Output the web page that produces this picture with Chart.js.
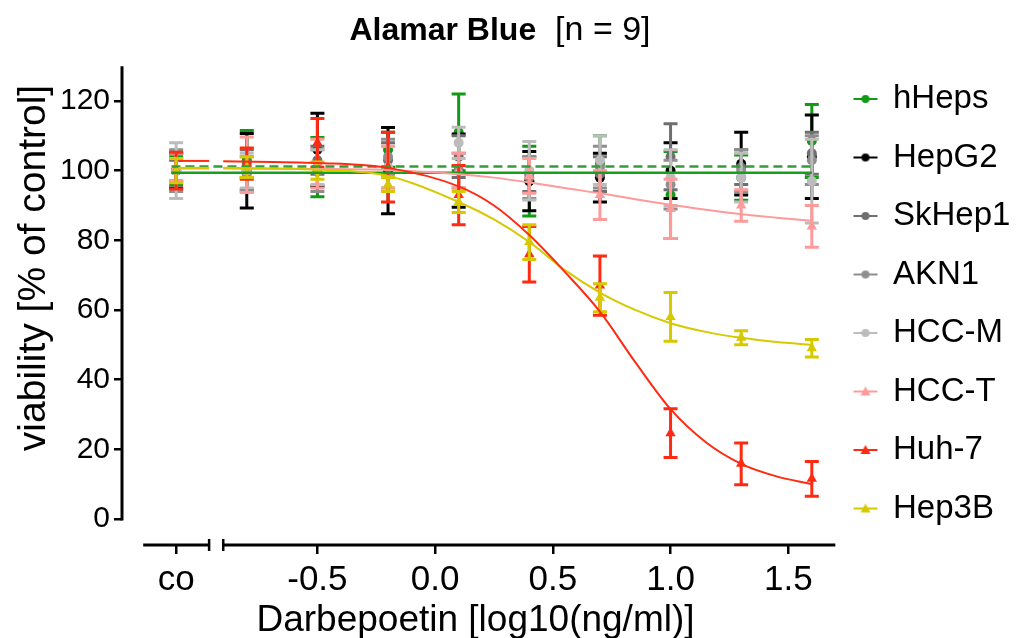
<!DOCTYPE html>
<html>
<head>
<meta charset="utf-8">
<title>Alamar Blue</title>
<script src="https://cdn.jsdelivr.net/npm/chart.js@4.4.1/dist/chart.umd.min.js"></script>
<style>
  html, body { margin: 0; padding: 0; background: #fff; }
</style>
</head>
<body>
<canvas id="chartOne" width="1026" height="638"></canvas>
<script>
const cellLines = ['hHeps', 'HepG2', 'SkHep1', 'AKN1', 'HCC-M', 'HCC-T', 'Huh-7', 'Hep3B'];
const colors = ['#129a17', '#000000', '#6f6f6f', '#8e8e8e', '#bcbcbc', '#ff9a9a', '#ff2a12', '#d7c900'];
const shapes = ['circle', 'circle', 'circle', 'circle', 'circle', 'triangle', 'triangle', 'triangle'];

// x positions: control ("co") then log10 doses
const ctrlX = -1.1;
const doses = [-0.8, -0.5, -0.2, 0.1, 0.4, 0.7, 1.0, 1.3, 1.6];
const xTicks = [ctrlX, -0.5, 0, 0.5, 1.0, 1.5];
const yTicks = [0, 20, 40, 60, 80, 100, 120];

// mean values (control first) and SD
const hHeps = [100, 103, 101, 106, 111, 97, 102, 93, 98, 108.5];
const hHepsSd = [4, 8.5, 8.5, 5, 11, 10, 8, 12.5, 6.5, 10.5];
const hepG2 = [100, 100, 106, 100, 100, 97, 98, 100, 102, 104];
const hepG2Sd = [5, 10.7, 10.5, 12.4, 10.5, 8.5, 7, 8, 9, 12];
const skHep1 = [100, 102, 103, 103, 104, 99, 99, 104, 101, 105];
const skHep1Sd = [3, 4, 4, 5, 6, 5, 5, 9.5, 5, 6];
const akn1 = [100, 99, 100, 104, 100, 98, 101, 96, 100, 103];
const akn1Sd = [6, 5, 6, 5, 5, 6, 6, 7, 6, 7];
const hccM = [100, 100, 101, 101, 108, 100, 103, 98, 98, 97];
const hccMSd = [8, 5, 5, 6, 4.5, 8.4, 7, 8, 7, 12];
const hccT = [101, 101.7, 102, 101, 100, 98.5, 93, 89, 90, 84];
const hccTSd = [4, 8, 7, 6, 5, 5, 7, 8.5, 4.5, 6];
const huh7 = [100, 102, 108, 101, 93, 76, 67, 24.6, 15.8, 11.5];
const huh7Sd = [5.3, 4.5, 7, 10, 8.5, 8, 8.5, 7, 6, 5];
const hep3B = [100, 101, 100, 96, 91, 79.5, 63.5, 58, 52, 49];
const hep3BSd = [3.5, 3, 2.5, 2, 3, 5, 4, 7, 2, 2.5];

// fitted curves
const fitX = [-0.9, -0.5, -0.2, 0.1, 0.25, 0.4, 0.55, 0.7, 0.85, 1.0, 1.15, 1.3, 1.45, 1.6];
const huh7Fit = [102.7, 102.2, 100.8, 95.5, 90, 81.5, 71, 59.5, 45, 31.5, 22, 15.8, 12.2, 10];
const hep3BFit = [100.8, 100.3, 98.5, 91, 86, 79.5, 71.5, 65, 60, 56.2, 53.7, 52, 50.8, 50];
const hccTFit = [100.6, 100.5, 100.2, 99, 98, 96.6, 95, 93.5, 91.8, 90.2, 88.8, 87.5, 86.5, 85.6];
const ctrlFitX = [-1.09, -0.96];
const huh7CtrlFit = [102.8, 102.8];
const hep3BCtrlFit = [100.8, 100.8];
const hccTCtrlFit = [100.6, 100.6];
const flatX = [-1.12, 1.6];
const hHepsFit = [99.4, 99.4];
const hHepsFit2 = [101.2, 101.2];

const means = [hHeps, hepG2, skHep1, akn1, hccM, hccT, huh7, hep3B];
const sds = [hHepsSd, hepG2Sd, skHep1Sd, akn1Sd, hccMSd, hccTSd, huh7Sd, hep3BSd];
const xAll = [ctrlX].concat(doses);
const FONT = "'Liberation Sans', Arial, sans-serif";

// little legend icon: short line with marker
function makeIcon(color, shape) {
    const c = document.createElement('canvas');
    c.width = 26; c.height = 14;
    const g = c.getContext('2d');
    g.strokeStyle = color; g.fillStyle = color; g.lineWidth = 2;
    g.beginPath(); g.moveTo(1, 7); g.lineTo(25, 7); g.stroke();
    g.beginPath();
    if (shape === 'triangle') {
        g.moveTo(13, 2); g.lineTo(18, 11); g.lineTo(8, 11); g.closePath();
    } else {
        g.arc(13, 7, 4, 0, Math.PI * 2);
    }
    g.fill();
    return c;
}

function curve(label, xs, ys, color, dash, order, width) {
    return {
        label: label,
        data: xs.map((x, k) => ({x: x, y: ys[k]})),
        borderColor: color,
        backgroundColor: color,
        borderWidth: width || 2,
        borderDash: dash || [],
        pointRadius: 0,
        showLine: true,
        fill: false,
        cubicInterpolationMode: 'monotone',
        order: order
    };
}

const pointSets = cellLines.map((name, i) => ({
    label: name,
    data: xAll.map((x, k) => ({x: x, y: means[i][k]})),
    sd: sds[i],
    backgroundColor: colors[i],
    borderColor: colors[i],
    pointStyle: shapes[i],
    pointRadius: shapes[i] === 'triangle' ? 6 : 5,
    borderWidth: 0,
    showLine: false,
    order: 20 - i,
    legendIcon: makeIcon(colors[i], shapes[i])
}));

const curveSets = [
    curve('hHeps fit', flatX, hHepsFit, '#18a01c', null, 5, 2.5),
    curve('hHeps fit (dashed)', flatX, hHepsFit2, '#2f9f33', [9, 5], 5, 2.5),
    curve('HCC-T fit', fitX, hccTFit, '#ff9a9a', null, 4),
    curve('HCC-T fit co', ctrlFitX, hccTCtrlFit, '#ff9a9a', null, 4),
    curve('Hep3B fit', fitX, hep3BFit, '#d7c900', null, 3),
    curve('Hep3B fit co', ctrlFitX, hep3BCtrlFit, '#d7c900', null, 3),
    curve('Huh-7 fit', fitX, huh7Fit, '#ff2a12', null, 2),
    curve('Huh-7 fit co', ctrlFitX, huh7CtrlFit, '#ff2a12', null, 2)
];

// error bars, drawn under each marker set
const errorBars = {
    id: 'errorBars',
    beforeDatasetDraw(chart, args) {
        const ds = chart.data.datasets[args.index];
        if (!ds.sd) return;
        const ctx = chart.ctx, xs = chart.scales.x, ys = chart.scales.y;
        ctx.save();
        ctx.strokeStyle = ds.borderColor;
        ctx.lineWidth = 3;
        ds.data.forEach((p, k) => {
            const x = xs.getPixelForValue(p.x);
            const t = ys.getPixelForValue(p.y + ds.sd[k]);
            const b = ys.getPixelForValue(p.y - ds.sd[k]);
            ctx.beginPath();
            ctx.moveTo(x, t); ctx.lineTo(x, b);
            ctx.moveTo(x - 7, t); ctx.lineTo(x + 7, t);
            ctx.moveTo(x - 7, b); ctx.lineTo(x + 7, b);
            ctx.stroke();
        });
        ctx.restore();
    }
};

// axis lines (broken x axis), y title and the two-weight title
const axisLines = {
    id: 'axisLines',
    afterDraw(chart) {
        const ctx = chart.ctx, xs = chart.scales.x, ys = chart.scales.y;
        const area = chart.chartArea;
        ctx.save();
        ctx.strokeStyle = '#000';
        ctx.lineWidth = 3;
        ctx.lineCap = 'butt';
        // y axis from 0 up to 130
        ctx.beginPath();
        ctx.moveTo(area.left, ys.getPixelForValue(0) + 1.5);
        ctx.lineTo(area.left, ys.getPixelForValue(130));
        ctx.stroke();
        // x axis in two pieces
        const yb = area.bottom;
        const segs = [[-1.24, -0.96], [-0.90, 1.70]];
        segs.forEach(s => {
            ctx.beginPath();
            ctx.moveTo(xs.getPixelForValue(s[0]), yb);
            ctx.lineTo(xs.getPixelForValue(s[1]), yb);
            ctx.stroke();
        });
        ctx.lineWidth = 2.5;
        [-0.96, -0.90].forEach(v => {
            const px = xs.getPixelForValue(v);
            ctx.beginPath();
            ctx.moveTo(px, yb - 6); ctx.lineTo(px, yb + 6);
            ctx.stroke();
        });
        ctx.fillStyle = '#000';
        ctx.textBaseline = 'middle';
        // y axis title
        ctx.save();
        ctx.translate(34, 268);
        ctx.rotate(-Math.PI / 2);
        ctx.textAlign = 'center';
        ctx.font = '39px ' + FONT;
        ctx.fillText('viability [% of control]', 0, 0);
        ctx.restore();
        // chart title
        const boldPart = 'Alamar Blue';
        const normPart = '  [n = 9]';
        ctx.font = 'bold 32px ' + FONT;
        const w1 = ctx.measureText(boldPart).width;
        ctx.font = '34px ' + FONT;
        const w2 = ctx.measureText(normPart).width;
        const x0 = 500 - (w1 + w2) / 2;
        ctx.textAlign = 'left';
        ctx.font = 'bold 32px ' + FONT;
        ctx.fillText(boldPart, x0, 31);
        ctx.font = '34px ' + FONT;
        ctx.fillText(normPart, x0 + w1, 31);
        ctx.restore();
    }
};

const legendWidth = {
    id: 'legendWidth',
    beforeInit(chart) {
        const fit = chart.legend.fit;
        chart.legend.fit = function () {
            fit.call(this);
            this.width = 197;
        };
    }
};

var ctx = document.getElementById('chartOne').getContext('2d');
var chartOne = new Chart(ctx, {
    type: 'scatter',
    data: {
        datasets: pointSets.concat(curveSets)
    },
    plugins: [legendWidth, errorBars, axisLines],
    options: {
        responsive: false,
        animation: false,
        events: [],
        layout: { padding: { top: 57, left: 0, right: 0, bottom: 0 } },
        scales: {
            x: {
                type: 'linear',
                min: -1.33,
                max: 1.673,
                afterFit: (scale) => { scale.height = 93; },
                afterBuildTicks: (scale) => { scale.ticks = xTicks.map(v => ({value: v})); },
                border: { display: false },
                grid: {
                    display: true, drawOnChartArea: false, drawTicks: true,
                    tickLength: 9, color: '#000', lineWidth: 2.5
                },
                ticks: {
                    color: '#000',
                    font: { family: FONT, size: 35 },
                    padding: 5,
                    maxRotation: 0,
                    autoSkip: false,
                    callback: (v) => v === ctrlX ? 'co' : Number(v).toFixed(1)
                },
                title: {
                    display: true,
                    text: 'Darbepoetin [log10(ng/ml)]',
                    color: '#000',
                    font: { family: FONT, size: 37 },
                    padding: { top: 0, bottom: -5 }
                }
            },
            y: {
                min: -7.5,
                max: 132.64,
                afterFit: (scale) => { scale.width = 122; },
                afterBuildTicks: (scale) => { scale.ticks = yTicks.map(v => ({value: v})); },
                border: { display: false },
                grid: {
                    display: true, drawOnChartArea: false, drawTicks: true,
                    tickLength: 8, color: '#000', lineWidth: 2.5
                },
                ticks: {
                    color: '#000',
                    padding: 4,
                    font: { family: FONT, size: 30 },
                    callback: (v) => String(v)
                }
            }
        },
        plugins: {
            tooltip: { enabled: false },
            legend: {
                position: 'right',
                align: 'start',
                labels: {
                    usePointStyle: true,
                    pointStyleWidth: 22,
                    padding: 25.5,
                    color: '#000',
                    font: { family: FONT, size: 33 },
                    generateLabels: (chart) => chart.data.datasets
                        .map((ds, i) => ({
                            text: ds.label,
                            pointStyle: ds.legendIcon,
                            datasetIndex: i,
                            hidden: false,
                            fontColor: '#000',
                            lineWidth: 0,
                            strokeStyle: 'rgba(0,0,0,0)',
                            fillStyle: 'rgba(0,0,0,0)'
                        }))
                        .filter(item => chart.data.datasets[item.datasetIndex].legendIcon)
                }
            }
        }
    }
});
</script>
</body>
</html>
